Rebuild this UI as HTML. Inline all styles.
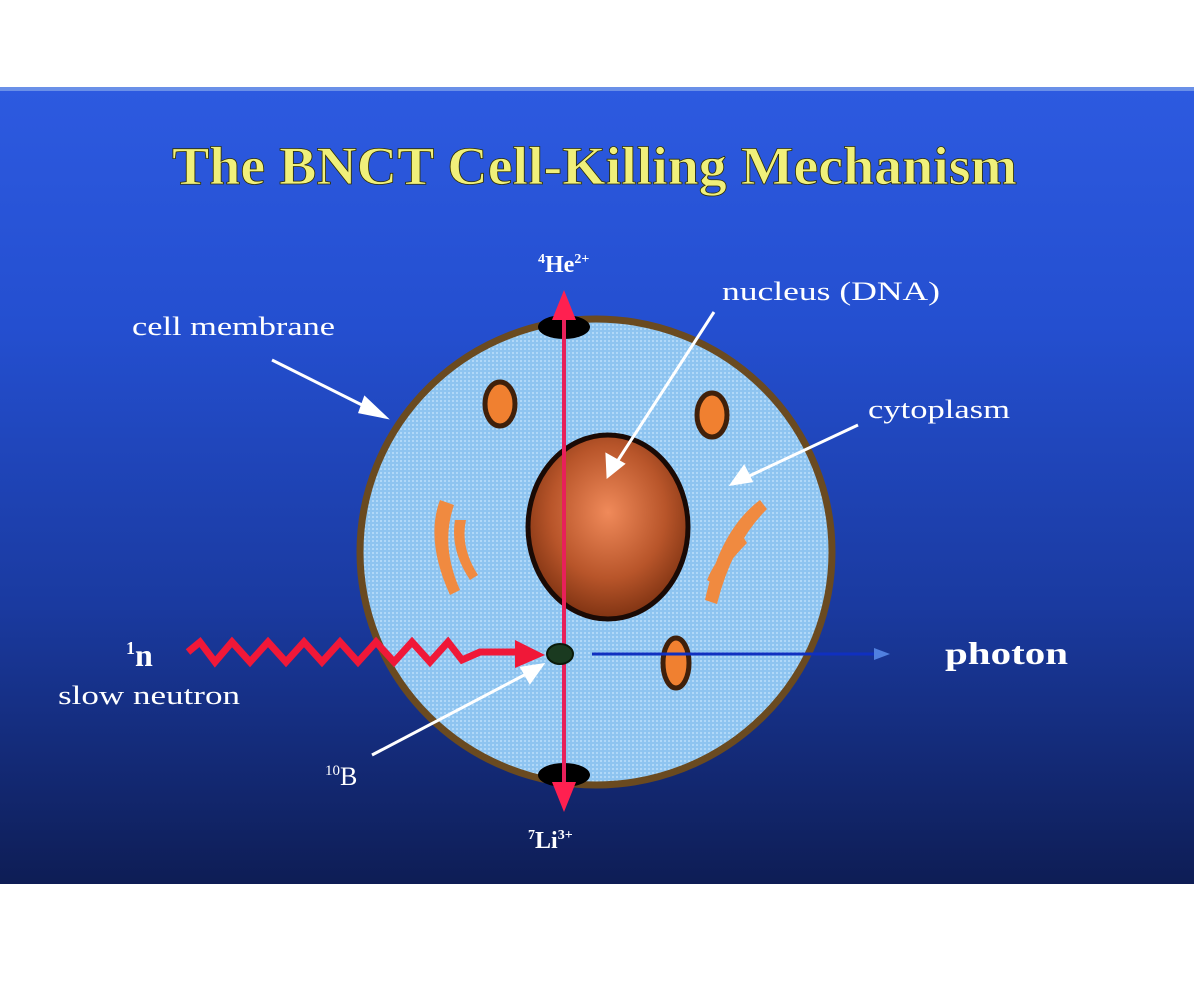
<!DOCTYPE html>
<html><head><style>
body{margin:0;background:#fff;width:1200px;height:981px;overflow:hidden}
svg{display:block}
</style></head><body>
<svg width="1200" height="981" viewBox="0 0 1200 981" xmlns="http://www.w3.org/2000/svg" font-family="Liberation Serif, serif">
<defs>
<linearGradient id="bg" x1="0" y1="0" x2="0" y2="1">
<stop offset="0" stop-color="#2d5ae0"/>
<stop offset="0.3" stop-color="#244fd0"/>
<stop offset="0.65" stop-color="#1a3aa0"/>
<stop offset="1" stop-color="#0e1d55"/>
</linearGradient>
<radialGradient id="nuc" cx="0.5" cy="0.42" r="0.6">
<stop offset="0" stop-color="#f08a5a"/>
<stop offset="0.6" stop-color="#b8552a"/>
<stop offset="1" stop-color="#7a3010"/>
</radialGradient>
<pattern id="dots" width="4" height="4" patternUnits="userSpaceOnUse">
<rect width="4" height="4" fill="#8ec4f0"/>
<rect width="2" height="2" fill="#b0d8f8"/>
</pattern>
</defs>
<rect x="0" y="87" width="1194" height="797" fill="url(#bg)"/>
<rect x="0" y="87" width="1194" height="4" fill="#6a90e8"/>
<text x="172" y="184" textLength="845" lengthAdjust="spacingAndGlyphs" font-size="54" font-weight="bold" fill="#f0f07a" stroke="#303000" stroke-width="0.8">The BNCT Cell-Killing Mechanism</text>
<ellipse cx="596" cy="552" rx="236" ry="233" fill="url(#dots)" stroke="#6a4a20" stroke-width="7"/>
<ellipse cx="608" cy="527" rx="80" ry="92" fill="url(#nuc)" stroke="#1a0a05" stroke-width="5"/>
<ellipse cx="500" cy="404" rx="15" ry="22" fill="#f08030" stroke="#40200a" stroke-width="5"/>
<ellipse cx="712" cy="415" rx="15" ry="22" fill="#f08030" stroke="#40200a" stroke-width="5"/>
<ellipse cx="676" cy="663" rx="13" ry="25" fill="#f08030" stroke="#40200a" stroke-width="5"/>
<path d="M440 500 q-15 40 10 95 l10 -5 q-20 -45 -6 -85z M455 520 q-5 30 15 60 l8 -5 q-18 -28 -12 -55z" fill="#f08a40"/>
<path d="M760 500 q-40 30 -55 100 l12 4 q15 -60 50 -95z M742 535 q-25 20 -35 45 l8 5 q12 -22 32 -42z" fill="#f08a40"/>
<ellipse cx="564" cy="327" rx="26" ry="12" fill="#000"/>
<ellipse cx="564" cy="775" rx="26" ry="12" fill="#000"/>
<line x1="564" y1="300" x2="564" y2="800" stroke="#e8205a" stroke-width="4"/>
<polygon points="564,290 552,320 576,320" fill="#ff2050"/>
<polygon points="564,812 552,782 576,782" fill="#ff2050"/>
<line x1="592" y1="654" x2="880" y2="654" stroke="#1030c0" stroke-width="3"/>
<polygon points="890,654 874,648 874,660" fill="#5080e0"/>
<polyline points="188,652 200,642 215,662 232,642 250,662 268,642 286,662 304,642 322,662 340,642 358,662 376,642 394,662 412,642 430,662 448,642 462,660 480,652 520,652" fill="none" stroke="#f01838" stroke-width="7"/>
<polygon points="545,655 515,640 515,668" fill="#f01838"/>
<ellipse cx="560" cy="654" rx="13" ry="10" fill="#1a3a20" stroke="#0a1a0a" stroke-width="2"/>
<g stroke="#fff" stroke-width="3" fill="#fff">
<line x1="272" y1="360" x2="372" y2="410"/><polygon points="385,417 365,398 360,412"/>
<line x1="714" y1="312" x2="615" y2="465"/><polygon points="608,476 607,455 623,464"/>
<line x1="858" y1="425" x2="745" y2="478"/><polygon points="732,484 744,467 751,481"/>
<line x1="372" y1="755" x2="530" y2="672"/><polygon points="542,665 522,668 530,682"/>
</g>
<g fill="#fff" font-size="26">
<text x="132" y="335" textLength="203" lengthAdjust="spacingAndGlyphs">cell membrane</text>
<text x="722" y="300" textLength="218" lengthAdjust="spacingAndGlyphs">nucleus (DNA)</text>
<text x="868" y="418" textLength="142" lengthAdjust="spacingAndGlyphs">cytoplasm</text>
<text x="58" y="704" textLength="182" lengthAdjust="spacingAndGlyphs">slow neutron</text>
</g>
<g fill="#fff" font-weight="bold">
<text x="126" y="666" font-size="32"><tspan font-size="18" dy="-12">1</tspan><tspan dy="12">n</tspan></text>
<text x="945" y="664" font-size="32" textLength="123" lengthAdjust="spacingAndGlyphs">photon</text>
<text x="538" y="272" font-size="24"><tspan font-size="14" dy="-9">4</tspan><tspan dy="9">He</tspan><tspan font-size="14" dy="-9">2+</tspan></text>
<text x="528" y="848" font-size="24"><tspan font-size="14" dy="-9">7</tspan><tspan dy="9">Li</tspan><tspan font-size="14" dy="-9">3+</tspan></text>
</g>
<text x="325" y="785" fill="#fff" font-size="26"><tspan font-size="15" dy="-10">10</tspan><tspan dy="10">B</tspan></text>
</svg>
</body></html>
